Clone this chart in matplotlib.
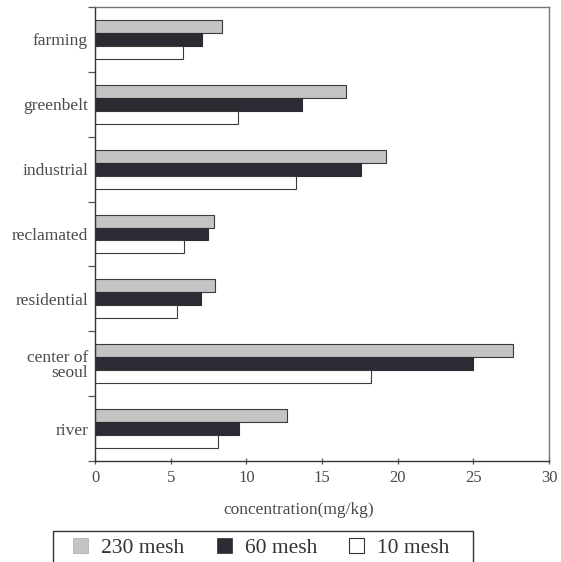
import matplotlib
matplotlib.use("Agg")
import matplotlib.pyplot as plt
from matplotlib.patches import Patch, Rectangle
import numpy as np

categories = ["farming", "greenbelt", "industrial", "reclamated", "residential", "center of\nseoul", "river"]
mesh230 = [8.4, 16.6, 19.2, 7.85, 7.95, 27.6, 12.7]
mesh60 = [7.05, 13.7, 17.6, 7.45, 7.0, 25.0, 9.5]
mesh10 = [5.8, 9.45, 13.3, 5.85, 5.4, 18.25, 8.15]
series_labels = ["230 mesh", "60 mesh", "10 mesh"]
xticks = [0, 5, 10, 15, 20, 25, 30]

plt.rcParams['font.family'] = ['Liberation Serif', 'DejaVu Serif']
txt = '#4a4a4a'

fig = plt.figure(figsize=(5.61, 5.62), dpi=100)
ax = fig.add_axes([95/561, 1-461/562, 454/561, 454/562])

y = np.arange(len(categories))
h = 0.2
c230 = '#c4c4c4'
c60 = '#2b2b33'
c10 = '#ffffff'
ax.barh(y - h, mesh230, height=h, color=c230, edgecolor='#3a3a3a', linewidth=0.8, label=series_labels[0])
ax.barh(y, mesh60, height=h, color=c60, edgecolor='#2b2b33', linewidth=0.8, label=series_labels[1])
ax.barh(y + h, mesh10, height=h, color=c10, edgecolor='#3a3a3a', linewidth=0.8, label=series_labels[2])

ax.set_ylim(len(categories) - 0.5, -0.5)
ax.set_xlim(0, 30)
ax.set_xticks(xticks)
ax.set_xticklabels([str(t) for t in xticks], fontsize=12, color=txt)
ax.set_yticks(y)
ax.set_yticklabels(categories, fontsize=12.5, color=txt, linespacing=0.9)
ax.set_yticks(np.arange(len(categories) + 1) - 0.5, minor=True)
ax.tick_params(axis='y', which='major', length=0, pad=5)
ax.tick_params(axis='y', which='minor', length=5, direction='out', color='#555555', width=0.9)
ax.tick_params(axis='x', which='major', length=5, direction='inout', color='#555555', width=0.9, pad=4)

for s in ['left', 'bottom']:
    ax.spines[s].set_color('#333333')
    ax.spines[s].set_linewidth(1.0)
for s in ['top', 'right']:
    ax.spines[s].set_color('#777777')
    ax.spines[s].set_linewidth(1.0)

xl = ax.set_xlabel("concentration(mg/kg)", fontsize=12.5, color=txt)
xl.set_va('center')
ax.xaxis.set_label_coords((299 - 95) / 454, -(510 - 461) / 454)

handles = [Patch(facecolor=c230, edgecolor='#aaaaaa', linewidth=0.5),
           Patch(facecolor=c60, edgecolor='#2b2b33', linewidth=0.5),
           Patch(facecolor='white', edgecolor='#333333', linewidth=0.8)]
leg = fig.legend(handles, series_labels, ncol=3, loc='center left',
                 bbox_to_anchor=(73/561, 1 - 548/562), borderaxespad=0, borderpad=0,
                 frameon=False, fontsize=15.5, handlelength=0.7, handleheight=0.7,
                 columnspacing=1.5, handletextpad=0.6)
for t in leg.get_texts():
    t.set_color('#333333')
fig.patches.append(Rectangle((53/561, 1 - 566/562), 420/561, 35/562, transform=fig.transFigure,
                             facecolor='none', edgecolor='#333333', linewidth=1.0))

fig.savefig("out.png", dpi=100)
